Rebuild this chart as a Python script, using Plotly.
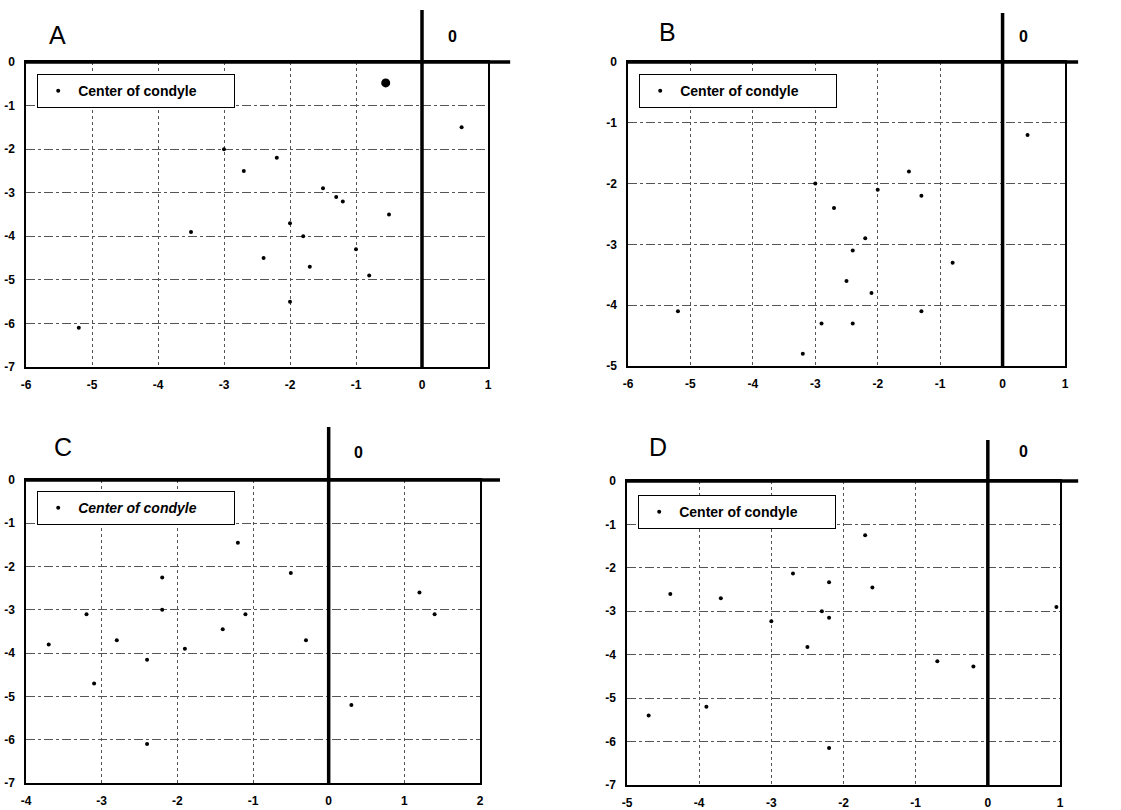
import plotly.graph_objects as go

# ---------------- data ----------------
A_x = [-0.55, 0.6, -3.0, -2.2, -2.7, -1.5, -1.3, -1.2, -0.5, -2.0, -3.5, -1.8, -1.0, -2.4, -1.7, -0.8, -2.0, -5.2]
A_y = [-0.48, -1.5, -2.0, -2.2, -2.5, -2.9, -3.1, -3.2, -3.5, -3.7, -3.9, -4.0, -4.3, -4.5, -4.7, -4.9, -5.5, -6.1]

B_x = [0.4, -1.5, -3.0, -2.0, -1.3, -2.7, -2.2, -2.4, -0.8, -2.5, -2.1, -5.2, -1.3, -2.9, -2.4, -3.2]
B_y = [-1.2, -1.8, -2.0, -2.1, -2.2, -2.4, -2.9, -3.1, -3.3, -3.6, -3.8, -4.1, -4.1, -4.3, -4.3, -4.8]

C_x = [-1.2, -2.2, -0.5, 1.2, -2.2, -3.2, -1.1, 1.4, -1.4, -2.8, -0.3, -3.7, -1.9, -2.4, -3.1, 0.3, -2.4]
C_y = [-1.45, -2.25, -2.15, -2.6, -3.0, -3.1, -3.1, -3.1, -3.45, -3.7, -3.7, -3.8, -3.9, -4.15, -4.7, -5.2, -6.1]

D_x = [-1.7, -2.7, -2.2, -1.6, -4.4, -3.7, 0.95, -2.3, -2.2, -3.0, -2.5, -0.7, -0.2, -3.9, -4.7, -2.2]
D_y = [-1.25, -2.13, -2.33, -2.45, -2.6, -2.7, -2.9, -3.0, -3.15, -3.23, -3.82, -4.15, -4.27, -5.2, -5.4, -6.15]

panel_labels = ["A", "B", "C", "D"]
x_ticks = [[-6, -5, -4, -3, -2, -1, 0, 1],
           [-6, -5, -4, -3, -2, -1, 0, 1],
           [-4, -3, -2, -1, 0, 1, 2],
           [-5, -4, -3, -2, -1, 0, 1]]
y_ticks = [[0, -1, -2, -3, -4, -5, -6, -7],
           [0, -1, -2, -3, -4, -5],
           [0, -1, -2, -3, -4, -5, -6, -7],
           [0, -1, -2, -3, -4, -5, -6, -7]]
legend_name = "Center of condyle"
origin_label = "0"

# ---------------- layout (pixels) ----------------
W, H = 1121, 810
FONT = "Liberation Sans, Arial, Helvetica, sans-serif"
# plot areas: left, right, top, bottom in px
boxes = [(26, 488, 62, 367), (628, 1065, 62, 366), (26, 480, 480, 783), (627, 1060, 481, 785)]
legend_pos = [(37, 74), (639, 74), (37, 491), (638, 495)]
hline_ext = [1.048, 1.03, 1.044, 1.042]
vline_top = [10, 13, 427, 440]
letter_px = [(57, 35), (667, 32), (63, 447), (658, 447)]
zero_px = [(452, 37), (1023, 37), (358, 452), (1023, 452)]

data = [(A_x, A_y), (B_x, B_y), (C_x, C_y), (D_x, D_y)]


def labels(vals):
    return ["<b>%d</b>" % v for v in vals]


fig = go.Figure()
shapes = []
annotations = []
layout = {}

for i in range(4):
    n = "" if i == 0 else str(i + 1)
    xa, ya = "x" + n, "y" + n
    L, R, T, B = boxes[i]
    xr = (min(x_ticks[i]), max(x_ticks[i]))
    yr = (min(y_ticks[i]), max(y_ticks[i]))
    leg = "legend" if i == 0 else "legend" + str(i + 1)
    xs, ys = data[i]
    fig.add_trace(go.Scatter(
        x=xs, y=ys, mode="markers", name=legend_name,
        marker=dict(color="black", size=4),
        xaxis=xa, yaxis=ya, legend=leg, showlegend=True,
        cliponaxis=False,
    ))
    if i == 0:
        # the single larger dot in panel A
        fig.add_trace(go.Scatter(
            x=[A_x[0]], y=[A_y[0]], mode="markers",
            marker=dict(color="black", size=9),
            xaxis=xa, yaxis=ya, showlegend=False,
        ))

    common = dict(
        showline=True, linecolor="black", linewidth=1.5, mirror=True,
        showgrid=True, gridcolor="#555555", gridwidth=1,
        zeroline=False, ticks="", automargin=False,
        tickfont=dict(family=FONT, size=12, color="black"),
    )
    layout["xaxis" + n] = dict(
        common, range=list(xr), domain=[L / W, R / W], anchor=ya,
        tickmode="array", tickvals=x_ticks[i], ticktext=labels(x_ticks[i]),
        griddash="dot", ticklabelstandoff=6,
    )
    layout["yaxis" + n] = dict(
        common, range=list(yr), domain=[1 - B / H, 1 - T / H], anchor=xa,
        tickmode="array", tickvals=y_ticks[i], ticktext=labels(y_ticks[i]),
        griddash="dashdot", ticklabelstandoff=7,
    )

    ph = B - T
    pw = R - L
    # thick horizontal line at y = 0 extending past the right frame
    shapes.append(dict(type="line", xref=xa + " domain", yref=ya + " domain",
                       x0=0, x1=hline_ext[i], y0=1, y1=1,
                       line=dict(color="black", width=3.5)))
    # thick vertical line at x = 0 extending above the frame
    xf = (0 - xr[0]) / (xr[1] - xr[0])
    shapes.append(dict(type="line", xref=xa + " domain", yref=ya + " domain",
                       x0=xf, x1=xf, y0=0, y1=1 + (T - vline_top[i]) / ph,
                       line=dict(color="black", width=3.5)))
    # panel letter
    lx, ly = letter_px[i]
    annotations.append(dict(text=panel_labels[i], xref=xa + " domain", yref=ya + " domain",
                            x=(lx - L) / pw, y=1 + (T - ly) / ph, showarrow=False,
                            xanchor="center", yanchor="middle",
                            font=dict(family=FONT, size=25, color="black")))
    zx, zy = zero_px[i]
    annotations.append(dict(text=origin_label, xref=xa + " domain", yref=ya + " domain",
                            x=(zx - L) / pw, y=1 + (T - zy) / ph, showarrow=False,
                            xanchor="center", yanchor="middle",
                            font=dict(family=FONT, size=16, color="black", weight="bold")))
    gx, gy = legend_pos[i]
    layout[leg] = dict(
        x=gx / W, y=1 - gy / H, xanchor="left", yanchor="top",
        orientation="h", entrywidth=150, entrywidthmode="pixels",
        bgcolor="white", bordercolor="black", borderwidth=1.2,
        itemwidth=30,
        font=dict(family=FONT, size=14, color="black", weight="bold",
                  style="italic" if i == 2 else "normal"),
    )

fig.update_layout(
    width=W, height=H, margin=dict(l=0, r=0, t=0, b=0),
    paper_bgcolor="white", plot_bgcolor="white",
    shapes=shapes, annotations=annotations, **layout,
)

fig.write_html("out.html", config={"displayModeBar": False},
               post_script="document.body.style.margin='0px';")
